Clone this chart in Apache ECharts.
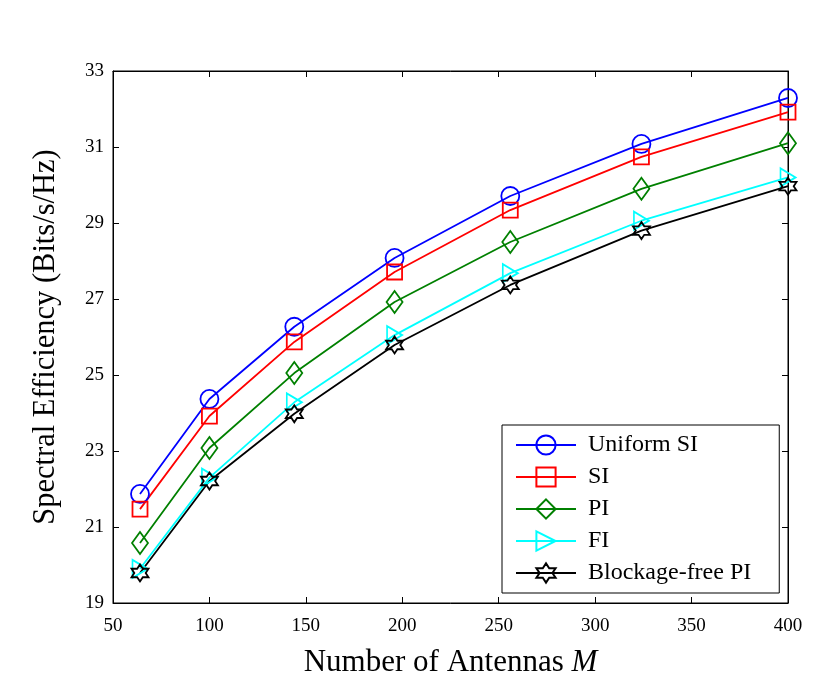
<!DOCTYPE html>
<html>
<head>
<meta charset="utf-8">
<script src="https://cdn.jsdelivr.net/npm/echarts@6/dist/echarts.min.js"></script>
<style>
  html, body { margin: 0; padding: 0; background: #fff; }
  #chart { width: 840px; height: 696px; }
</style>
</head>
<body>
<div id="chart"></div>
<script>
// 天线数
const antennas = [64, 100, 144, 196, 256, 324, 400]

// 各方案的频谱效率
const uniformSI = [21.87, 24.37, 26.27, 28.08, 29.71, 31.08, 32.29]
const si = [21.47, 23.92, 25.87, 27.71, 29.34, 30.74, 31.92]
const pi = [20.58, 23.08, 25.05, 26.92, 28.5, 29.9, 31.1]
const fi = [19.9, 22.3, 24.28, 26.05, 27.68, 29.06, 30.2]
const blockageFree = [19.79, 22.21, 23.98, 25.79, 27.37, 28.8, 29.97]

const names = ['Uniform SI', 'SI', 'PI', 'FI', 'Blockage-free PI']

const font = 'Liberation Serif, Times New Roman, serif'

const starPath = 'path://M0,-10 L2.9,-5 L8.66,-5 L5.8,0 L8.66,5 L2.9,5 L0,10 L-2.9,5 L-8.66,5 L-5.8,0 L-8.66,-5 L-2.9,-5 Z'
const triPath = 'path://M0,0 L10,5 L0,10 Z'

const zip = (ys) => antennas.map((x, i) => [x, ys[i]])

const makeSeries = (name, ys, color, symbol, size) => ({
  name: name,
  type: 'line',
  data: zip(ys),
  symbol: symbol,
  symbolSize: size,
  showSymbol: true,
  lineStyle: { color: color, width: 1.8 },
  itemStyle: { color: 'rgba(0,0,0,0)', borderColor: color, borderWidth: 1.8 },
  emphasis: { disabled: true },
  z: 3
})

const chart = echarts.init(document.getElementById('chart'))

const option = {
  backgroundColor: '#fff',
  animation: false,
  grid: {
    left: 113,
    right: 52,
    top: 71,
    bottom: 93,
    show: true,
    borderColor: '#000',
    borderWidth: 1
  },
  legend: {
    orient: 'vertical',
    left: 502,
    top: 425,
    data: names,
    itemWidth: 60,
    itemHeight: 24,
    itemGap: 8,
    padding: [8, 28, 8, 13],
    borderColor: '#000',
    borderWidth: 1,
    backgroundColor: '#fff',
    textStyle: { fontFamily: font, fontSize: 24, color: '#000', padding: [0, 0, 0, 7] }
  },
  xAxis: [
    {
      type: 'value',
      min: 50,
      max: 400,
      interval: 50,
      name: '{t|Number of Antennas }{i|M}',
      nameLocation: 'middle',
      nameGap: 44,
      nameTextStyle: {
        rich: {
          t: { fontFamily: font, fontSize: 31, color: '#000' },
          i: { fontFamily: font, fontSize: 31, color: '#000', fontStyle: 'italic' }
        }
      },
      axisLine: { show: true, lineStyle: { color: '#000', width: 1 } },
      axisTick: { inside: true, length: 6, lineStyle: { color: '#000' } },
      axisLabel: { fontFamily: font, fontSize: 19, color: '#000', margin: 14 },
      splitLine: { show: false }
    },
    {
      type: 'value',
      position: 'top',
      min: 50,
      max: 400,
      interval: 50,
      axisLine: { show: true, lineStyle: { color: '#000', width: 1 } },
      axisTick: { inside: true, length: 6, lineStyle: { color: '#000' } },
      axisLabel: { show: false },
      splitLine: { show: false }
    }
  ],
  yAxis: [
    {
      type: 'value',
      min: 19,
      max: 33,
      interval: 2,
      name: 'Spectral Efficiency (Bits/s/Hz)',
      nameLocation: 'middle',
      nameGap: 52,
      nameTextStyle: { fontFamily: font, fontSize: 30.5, color: '#000' },
      axisLine: { show: true, lineStyle: { color: '#000', width: 1 } },
      axisTick: { inside: true, length: 6, lineStyle: { color: '#000' } },
      axisLabel: { fontFamily: font, fontSize: 19, color: '#000', margin: 9 },
      splitLine: { show: false }
    },
    {
      type: 'value',
      position: 'right',
      min: 19,
      max: 33,
      interval: 2,
      axisLine: { show: true, lineStyle: { color: '#000', width: 1 } },
      axisTick: { inside: true, length: 6, lineStyle: { color: '#000' } },
      axisLabel: { show: false },
      splitLine: { show: false }
    }
  ],
  series: [
    makeSeries(names[0], uniformSI, '#0000ff', 'circle', 18),
    makeSeries(names[1], si, '#ff0000', 'rect', 15),
    makeSeries(names[2], pi, '#008000', 'diamond', [16, 22]),
    makeSeries(names[3], fi, '#00ffff', triPath, [15, 18]),
    makeSeries(names[4], blockageFree, '#000000', starPath, 17)
  ]
}

chart.setOption(option)
</script>
</body>
</html>
